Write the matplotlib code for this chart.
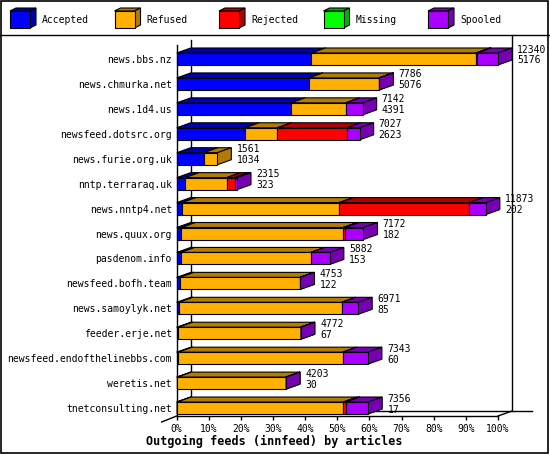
import numpy as np
import matplotlib.pyplot as plt
from matplotlib.patches import Polygon, Rectangle

plt.rcParams['font.family'] = 'DejaVu Sans Mono'

# feeds
hosts = ['news.bbs.nz', 'news.chmurka.net', 'news.1d4.us', 'newsfeed.dotsrc.org',
         'news.furie.org.uk', 'nntp.terraraq.uk', 'news.nntp4.net', 'news.quux.org',
         'pasdenom.info', 'newsfeed.bofh.team', 'news.samoylyk.net', 'feeder.erje.net',
         'newsfeed.endofthelinebbs.com', 'weretis.net', 'tnetconsulting.net']
offered = [12340, 7786, 7142, 7027, 1561, 2315, 11873, 7172, 5882, 4753, 6971, 4772, 7343, 4203, 7356]
accepted = [5176, 5076, 4391, 2623, 1034, 323, 202, 182, 153, 122, 85, 67, 60, 30, 17]
refused = [6318, 2690, 2099, 1241, 527, 1597, 6043, 6216, 4993, 4613, 6251, 4690, 6314, 4163, 6381]
rejected = [45, 0, 0, 2664, 0, 300, 4992, 70, 0, 0, 0, 0, 0, 0, 100]
missing = [0] * 15
spooled = [801, 20, 652, 499, 0, 95, 636, 704, 736, 18, 635, 15, 969, 10, 858]

series_names = ['Accepted', 'Refused', 'Rejected', 'Missing', 'Spooled']
series = [accepted, refused, rejected, missing, spooled]
colors = ['#0000ff', '#ffb000', '#ff0000', '#00ff00', '#aa00ff']


def darker(c, f=0.7):
    r, g, b = plt.matplotlib.colors.to_rgb(c)
    return (r * f, g * f, b * f)


fig = plt.figure(figsize=(5.5, 4.55), dpi=100)

# background axes in pixel units for frame + legend
bg = fig.add_axes([0, 0, 1, 1])
bg.set_xlim(0, 550)
bg.set_ylim(455, 0)
bg.axis('off')
bg.add_patch(Rectangle((1, 1), 547, 452, fill=False, lw=1.2, ec='black'))
bg.plot([0, 550], [35, 35], color='black', lw=1)

for k, (name, col) in enumerate(zip(series_names, colors)):
    x0 = 10 + k * 104.5
    bg.add_patch(Polygon([(x0, 11), (x0 + 6, 8), (x0 + 26, 8), (x0 + 20, 11)],
                         fc=darker(col), ec='black', lw=0.8))
    bg.add_patch(Polygon([(x0 + 20, 11), (x0 + 26, 8), (x0 + 26, 25), (x0 + 20, 28)],
                         fc=darker(col), ec='black', lw=0.8))
    bg.add_patch(Rectangle((x0, 11), 20, 17, fc=col, ec='black', lw=0.8))
    bg.text(x0 + 32, 20, name, fontsize=7, va='center', ha='left')

# main plot area (front plane)
ax = fig.add_axes([176.7 / 550, 1 - 416 / 455, 321.3 / 550, 376 / 455])
ax.patch.set_visible(False)
y_top, y_bot = (40 - 59) / 24.93, (416 - 59) / 24.93
ax.set_xlim(0, 100)
ax.set_ylim(y_bot, y_top)

ddx = 14 / 3.213   # depth, in percent
ddy = 5 / 24.93    # depth, in rows
h = 12 / 24.93

for s in ['top', 'right', 'left']:
    ax.spines[s].set_visible(False)
ax.spines['bottom'].set_linewidth(1)

# 3d frame lines
kw = dict(color='black', lw=1, clip_on=False, zorder=1)
ax.plot([ddx, ddx], [y_top, y_bot - ddy], **kw)
ax.plot([100 + ddx, 100 + ddx], [(35 - 59) / 24.93, y_bot - ddy], **kw)
ax.plot([ddx, 110.6], [y_bot - ddy, y_bot - ddy], **kw)
ax.plot([100, 100 + ddx], [y_bot, y_bot - ddy], **kw)
ax.plot([0, 0], [(45 - 59) / 24.93, y_bot], **kw)
ax.plot([0, -4.67], [y_bot, y_bot + 0.24], **kw)

vmax = max(offered)
for i in range(len(hosts)):
    left = 0.0
    yt, yb = i - h / 2, i + h / 2
    for vals, col in zip(series, colors):
        v = vals[i]
        if v <= 0:
            continue
        x0 = left
        x1 = left + v / vmax * 100
        pk = dict(ec='black', lw=0.8, clip_on=False, zorder=3)
        ax.add_patch(Polygon([(x0, yt), (x0 + ddx, yt - ddy), (x1 + ddx, yt - ddy), (x1, yt)],
                             fc=darker(col), **pk))
        ax.add_patch(Polygon([(x1, yt), (x1 + ddx, yt - ddy), (x1 + ddx, yb - ddy), (x1, yb)],
                             fc=darker(col), **pk))
        ax.add_patch(Polygon([(x0, yt), (x1, yt), (x1, yb), (x0, yb)], fc=col, **pk))
        left = x1
    end = offered[i] / vmax * 100
    ax.text(end + ddx + 1.6, i - 0.38, str(offered[i]), fontsize=7, va='center', ha='left',
            clip_on=False, zorder=4)
    ax.text(end + ddx + 1.6, i + 0.06, str(accepted[i]), fontsize=7, va='center', ha='left',
            clip_on=False, zorder=4)

ax.set_yticks(range(len(hosts)))
ax.set_yticklabels(hosts, fontsize=7)
ax.tick_params(axis='y', length=0, pad=3.4)
ax.set_xticks(np.arange(0, 101, 10))
ax.set_xticklabels([f'{t}%' for t in range(0, 101, 10)], fontsize=7)
ax.tick_params(axis='x', length=3.2, width=1, pad=2.5)

fig.text(274 / 550, 1 - 441 / 455, 'Outgoing feeds (innfeed) by articles',
         fontsize=8.5, fontweight='bold', ha='center', va='center')

fig.savefig('out.png', dpi=100)
